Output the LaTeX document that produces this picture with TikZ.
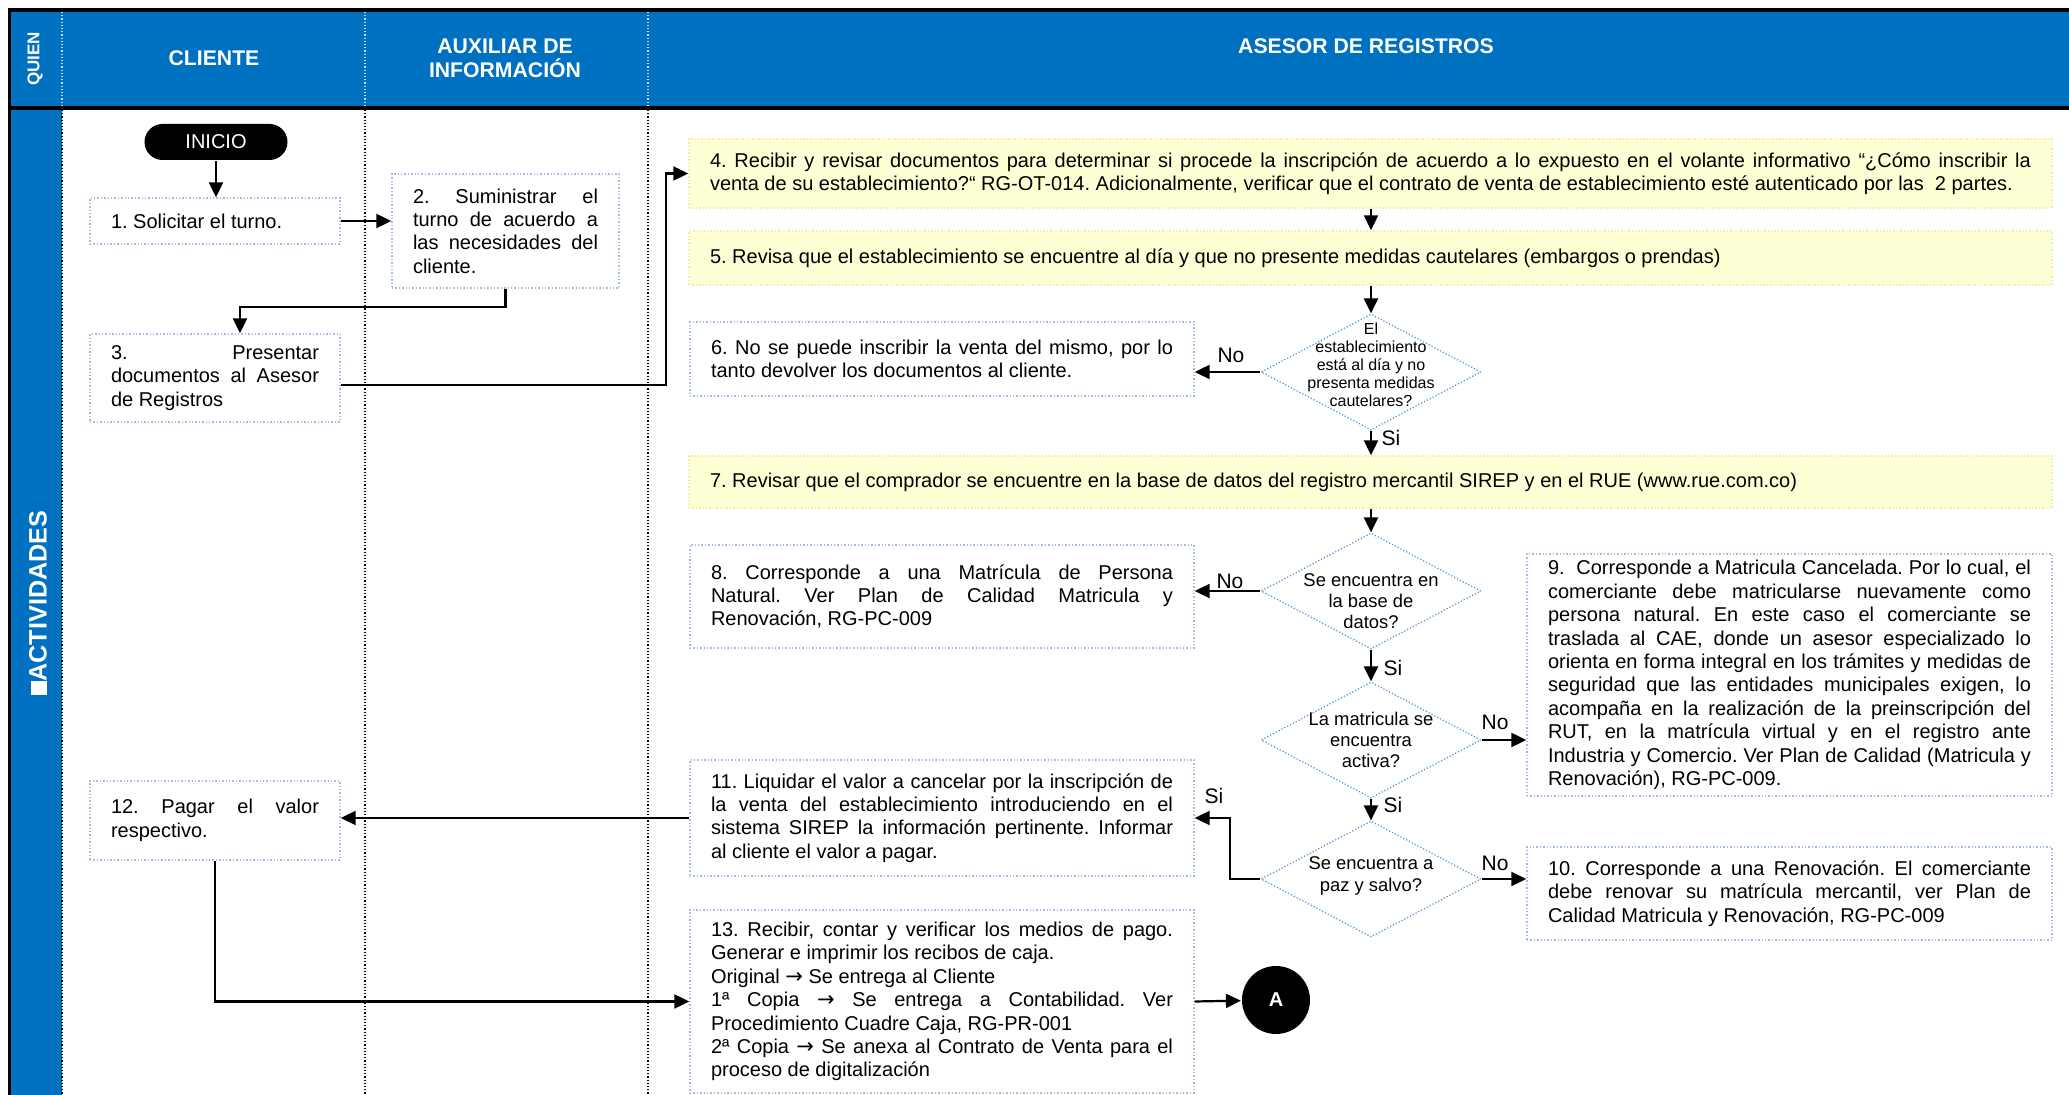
\documentclass[tikz,border=0pt]{standalone}
\usepackage{fontspec}
\setmainfont{Liberation Sans}
\newfontfamily\arrowfont{DejaVu Sans}
\usetikzlibrary{arrows.meta,shapes.geometric}

\definecolor{hdrblue}{RGB}{0,112,192}
\definecolor{boxline}{RGB}{160,188,228}
\definecolor{diamline}{RGB}{70,145,215}
\definecolor{yellfill}{RGB}{255,255,214}
\definecolor{yellline}{RGB}{238,238,160}

\newcommand{\flecha}{{\arrowfont\fontsize{10.5}{11}\selectfont →}}
\frenchspacing

\begin{document}
\begin{tikzpicture}[x=0.5pt,y=-0.5pt,>={Triangle[length=7.5pt,width=7pt]},line width=1.1pt,
   hdr/.style={text=white,font=\bfseries\fontsize{10.6}{12}\selectfont,align=center},
   actbox/.style={draw=boxline,densely dotted,line width=0.7pt,font=\fontsize{10}{11.7}\selectfont,align=justify,inner xsep=10.5pt,inner ysep=0pt},
   yelbox/.style={actbox,draw=yellline,fill=yellfill},
   decision/.style={diamond,draw=diamline,densely dotted,line width=0.6pt,minimum width=110pt,minimum height=58pt,inner sep=0pt},
   dtext/.style={font=\fontsize{9.2}{10.6}\selectfont,align=center,inner sep=0pt},
   flowlbl/.style={font=\fontsize{10.5}{12}\selectfont,inner sep=0pt},
   terminal/.style={fill=black,text=white,rounded corners=9pt,minimum width=71.5pt,minimum height=18pt,font=\fontsize{10}{12}\selectfont},
   connector/.style={circle,fill=black,text=white,minimum size=34pt,inner sep=0pt,font=\bfseries\fontsize{10}{12}\selectfont}]

   \useasboundingbox (0,0) rectangle (2069,1095);

   \fill[hdrblue] (9,10) rectangle (2069,108);
   \fill[hdrblue] (9,108) rectangle (62,1095);
   \draw[line width=2pt] (8,10) -- (2069,10);
   \draw[line width=2pt] (8,108) -- (2069,108);
   \draw[line width=1.5pt] (9,9) -- (9,1095);

   \draw[densely dotted,line width=0.6pt] (62,110) -- (62,1095);
   \draw[densely dotted,line width=0.6pt] (365,110) -- (365,1095);
   \draw[densely dotted,line width=0.6pt] (648,110) -- (648,1095);
   \draw[densely dotted,line width=0.6pt,white!75!hdrblue] (62,12) -- (62,106);
   \draw[densely dotted,line width=0.6pt,white!75!hdrblue] (365,12) -- (365,106);
   \draw[densely dotted,line width=0.6pt,white!75!hdrblue] (648,12) -- (648,106);

   \node[hdr,rotate=90,font=\bfseries\fontsize{8.5}{10}\selectfont] (quien) at (35,59) {QUIEN};
   \node[hdr] (cliente) at (214,58) {CLIENTE};
   \node[hdr] (auxiliar) at (505,58) {AUXILIAR DE\\INFORMACIÓN};
   \node[hdr] (asesor) at (1366,46) {ASESOR DE REGISTROS};
   \node[hdr,rotate=90,font=\bfseries\fontsize{12.6}{14}\selectfont] (activ) at (38,603) {\textcolor{white}{\rule{7pt}{8pt}}ACTIVIDADES};

   \node[terminal] (inicio) at (216,142) {INICIO};
   \node[actbox,text width=104pt,minimum height=23pt] (b1) at (215,221) {1. Solicitar el turno.};
   \node[actbox,text width=92.5pt,minimum height=57pt] (b2) at (505.5,231) {2. Suministrar el\linebreak turno de acuerdo a\linebreak las necesidades del\linebreak cliente.};
   \node[actbox,text width=104pt,minimum height=44pt] (b3) at (215,378) {3. Presentar\linebreak documentos al Asesor\linebreak de Registros};
   \node[yelbox,text width=660.5pt,minimum height=34.5pt] (b4) at (1370.5,173.5) {4. Recibir y revisar documentos para determinar si procede la inscripción de acuerdo a lo expuesto en el volante informativo “¿Cómo inscribir la\linebreak venta de su establecimiento?“ RG-OT-014. Adicionalmente, verificar que el contrato de venta de establecimiento esté autenticado por las~ 2 partes.};
   \node[yelbox,text width=660.5pt,minimum height=27pt] (b5) at (1370.5,258) {5. Revisa que el establecimiento se encuentre al día y que no presente medidas cautelares (embargos o prendas)};
   \node[decision,label={[dtext,font=\fontsize{8}{9}\selectfont,yshift=3.5pt]center:{El\\establecimiento\\está al día y no\\presenta medidas\\cautelares?}}] (d1) at (1371,372) {};
   \node[actbox,text width=231pt,minimum height=37pt] (b6) at (942,359) {6. No se puede inscribir la venta del mismo, por lo\linebreak tanto devolver los documentos al cliente.};
   \node[yelbox,text width=660.5pt,minimum height=26pt] (b7) at (1370.5,482) {7. Revisar que el comprador se encuentre en la base de datos del registro mercantil SIREP y en el RUE (www.rue.com.co)};
   \node[decision,label={[dtext,yshift=-5pt]center:{Se encuentra en\\la base de\\datos?}}] (d2) at (1371,591) {};
   \node[actbox,text width=231pt,minimum height=51.5pt] (b8) at (942,596.5) {8. Corresponde a una Matrícula de Persona\linebreak Natural. Ver Plan de Calidad Matricula y\linebreak Renovación, RG-PC-009};
   \node[decision,label={[dtext]center:{La matricula se\\encuentra\\activa?}}] (d3) at (1371,740) {};
   \node[actbox,text width=241.5pt,minimum height=121pt] (b9) at (1789.5,675) {9.~ Corresponde a Matricula Cancelada. Por lo cual, el\linebreak comerciante debe matricularse nuevamente como\linebreak persona natural. En este caso el comerciante se\linebreak traslada al CAE, donde un asesor especializado lo\linebreak orienta en forma integral en los trámites y medidas de\linebreak seguridad que las entidades municipales exigen, lo\linebreak acompaña en la realización de la preinscripción del\linebreak RUT, en la matrícula virtual y en el registro ante\linebreak Industria y Comercio. Ver Plan de Calidad (Matricula y\linebreak Renovación), RG-PC-009.};
   \node[decision,label={[dtext,yshift=1.5pt]center:{Se encuentra a\\paz y salvo?}}] (d4) at (1371,879) {};
   \node[actbox,text width=241.5pt,minimum height=46.5pt] (b10) at (1789.5,893.5) {10. Corresponde a una Renovación. El comerciante\linebreak debe renovar su matrícula mercantil, ver Plan de\linebreak Calidad Matricula y Renovación, RG-PC-009};
   \node[actbox,text width=231pt,minimum height=58pt] (b11) at (942,818) {11. Liquidar el valor a cancelar por la inscripción de\linebreak la venta del establecimiento introduciendo en el\linebreak sistema SIREP la información pertinente. Informar\linebreak al cliente el valor a pagar.};
   \node[actbox,text width=104pt,minimum height=39.5pt] (b12) at (215,820.5) {12. Pagar el valor\linebreak respectivo.};
   \node[actbox,text width=231pt,minimum height=91.5pt] (b13) at (942,1001.5) {13. Recibir, contar y verificar los medios de pago.\linebreak Generar e imprimir los recibos de caja.\\ Original \flecha{} Se entrega al Cliente\\ 1ª Copia \flecha{} Se entrega a Contabilidad. Ver\linebreak Procedimiento Cuadre Caja, RG-PR-001\\ 2ª Copia \flecha{} Se anexa al Contrato de Venta para el\linebreak proceso de digitalización};
   \node[connector] (conA) at (1276,1000) {A};

   \node[flowlbl] (no1) at (1231,355) {No};
   \node[flowlbl] (si1) at (1391,438) {Si};
   \node[flowlbl] (no2) at (1230,581) {No};
   \node[flowlbl] (si2) at (1393,668) {Si};
   \node[flowlbl] (no3) at (1495,722) {No};
   \node[flowlbl] (si3) at (1393,805) {Si};
   \node[flowlbl] (no4) at (1495,863) {No};
   \node[flowlbl] (si4) at (1214,796) {Si};

   \coordinate (k23) at (240,307);
   \coordinate (k34) at (666,385);
   \coordinate (k411) at (1230,818);

   \draw[->] (inicio.south) -- (inicio.south |- b1.north);
   \draw[->] (b1.east) -- (b1.east -| b2.west);
   \draw[->] (b2.south) |- (k23) -- (k23 |- b3.north);
   \draw[->] (b3.east |- k34) -- (k34) |- (b4.west);
   \draw[->] (b4.south -| d1) -- (b5.north -| d1);
   \draw[->] (b5.south -| d1) -- (d1.north);
   \draw[->] (d1.west) -- (d1.west -| b6.east);
   \draw[->] (d1.south) -- (d1.south |- b7.north);
   \draw[->] (b7.south -| d2) -- (d2.north);
   \draw[->] (d2.west) -- (d2.west -| b8.east);
   \draw[->] (d2.south) -- (d3.north);
   \draw[->] (d3.east) -- (d3.east -| b9.west);
   \draw[->] (d3.south) -- (d4.north);
   \draw[->] (d4.east) -- (d4.east -| b10.west);
   \draw[->] (d4.west) -| (k411) -- (b11.east);
   \draw[->] (b11.west) -- (b11.west -| b12.east);
   \draw[->] (b12.south) |- (b13.west);
   \draw[->] (b13.east) -- (conA);

\end{tikzpicture}
\end{document}
